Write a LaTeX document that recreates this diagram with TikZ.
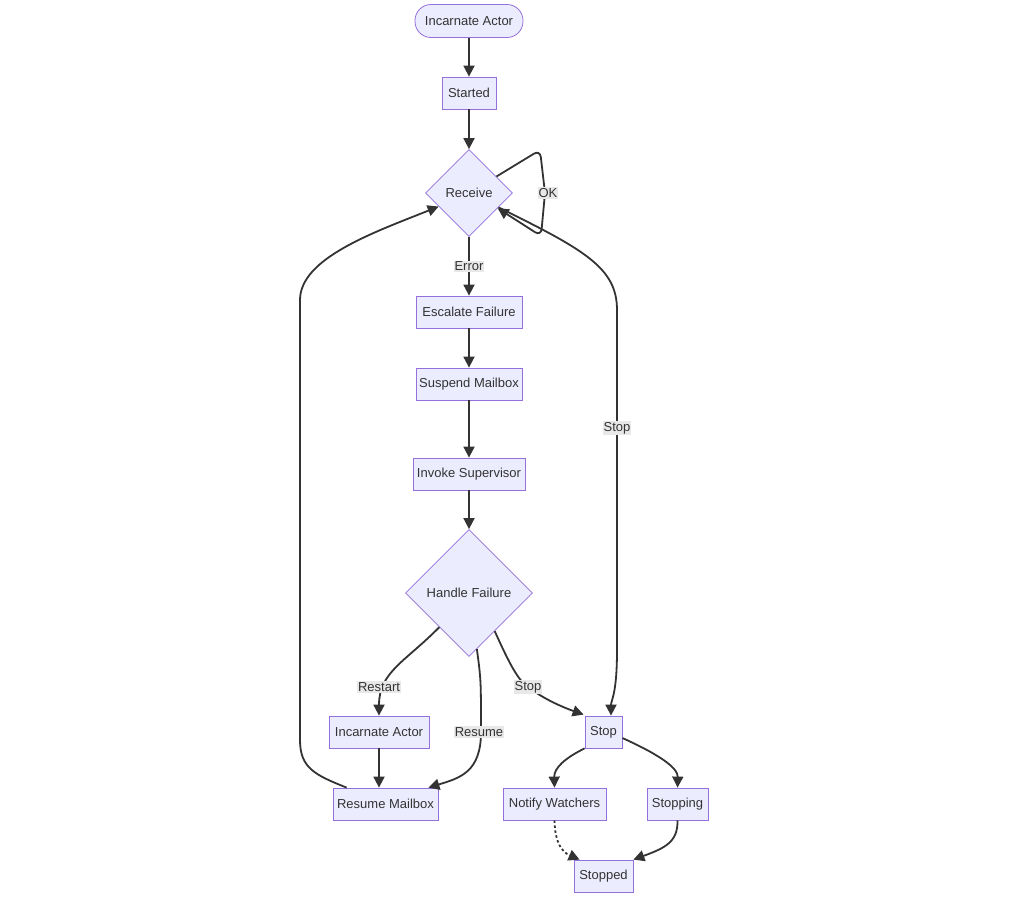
\documentclass[tikz,border=0pt]{standalone}
\usepackage{fontspec}
\setmainfont{Liberation Sans}
\usetikzlibrary{arrows.meta,shapes.geometric,calc}
\definecolor{nfill}{HTML}{ECECFF}
\definecolor{nline}{HTML}{9370DB}
\definecolor{eline}{HTML}{333333}
\definecolor{lbg}{HTML}{E8E8E8}
\tikzset{
  base/.style={draw=nline, fill=nfill, line width=0.8pt, text=eline, font=\fontsize{13}{15}\selectfont, inner sep=0pt},
  box/.style={base, rectangle, minimum height=32pt},
  stadium/.style={base, rectangle, rounded corners=16pt, minimum height=33pt, minimum width=108pt},
  choice/.style={base, diamond, aspect=1},
  edge/.style={draw=eline, line width=1.8pt, -{Triangle[length=11pt,width=11pt]}},
  dotedge/.style={edge, dash pattern=on 2.5pt off 2.5pt},
  lbl/.style={fill=lbg, text=eline, inner sep=1pt, font=\fontsize{13}{15}\selectfont}
}
\begin{document}
\begin{tikzpicture}[x=1pt,y=-1pt]
\useasboundingbox (0,0) rectangle (1009,898);
% nodes
\node[stadium] (ia) at (469,21) {Incarnate Actor};
\node[box, minimum width=54pt] (st) at (469,93) {Started};
\node[choice, minimum width=87pt, minimum height=87pt] (rc) at (469,193) {Receive};
\node[box, minimum width=106pt] (esc) at (469,312) {Escalate Failure};
\node[box, minimum width=106pt] (sus) at (469,384) {Suspend Mailbox};
\node[box, minimum width=112pt] (inv) at (469,474) {Invoke Supervisor};
\node[choice, minimum width=127pt, minimum height=127pt] (hf) at (469,593) {Handle Failure};
\node[box, minimum width=100pt] (ia2) at (379,732) {Incarnate Actor};
\node[box, minimum width=105pt] (rm) at (385.5,804) {Resume Mailbox};
\node[box, minimum width=37pt] (stop) at (603.5,732) {Stop};
\node[box, minimum width=103pt] (nw) at (554.5,804) {Notify Watchers};
\node[box, minimum width=61pt] (sping) at (677.5,804) {Stopping};
\node[box, minimum width=59pt] (sped) at (603.5,876) {Stopped};
% edges
\draw[edge] (ia) -- (st);
\draw[edge] (st) -- (rc);
\draw[edge, rounded corners=7pt] (rc.31) -- (540,150) -- (545,193) -- (541,236) -- (rc.-28);
\node[lbl] (lok) at (548,193) {OK};
\draw[edge] (rc) -- (esc) node[lbl, pos=0.5] (lerr) {Error};
\draw[edge] (esc) -- (sus);
\draw[edge] (sus) -- (inv);
\draw[edge] (inv) -- (hf);
\draw[edge] (hf.-131) .. controls (405,662) and (379,672) .. (ia2.north);
\node[lbl] (lres) at (379,687) {Restart};
\draw[edge] (hf.-82) .. controls (481,680) .. (481,732) .. controls (481,772) and (460,778) .. ([xshift=-10pt]rm.north east);
\node[lbl] (lrsm) at (479,732) {Resume};
\draw[edge] (hf.-56) .. controls (510,665) and (518,680) .. (528,687) .. controls (545,700) and (565,708) .. ([xshift=-1pt,yshift=1pt]stop.north west);
\node[lbl] (lst1) at (528,687) {Stop};
\draw[edge] (rc.-26) .. controls (585,250) and (617,268) .. (617,310) -- (617,650) .. controls (617,695) and (611,700) .. ([xshift=7.5pt]stop.north);
\node[lbl] (lst2) at (617,428) {Stop};
\draw[edge] (ia2.south) -- (ia2.south |- rm.north);
\draw[edge] ([xshift=14pt]rm.north west) .. controls (315,775) and (300,768) .. (300,740) -- (300,300) .. controls (300,258) and (375,232) .. (rc.-156);
\draw[edge] (stop.south west) .. controls (565,758) and (554,768) .. (nw.north);
\draw[edge] ([yshift=-6pt]stop.east) .. controls (660,755) and (678,768) .. (sping.north);
\draw[dotedge] (nw.south) .. controls (555,843) and (562,852) .. ([xshift=6pt]sped.north west);
\draw[edge] (sping.south) .. controls (678,842) and (665,848) .. (sped.north east);
\end{tikzpicture}
\end{document}
